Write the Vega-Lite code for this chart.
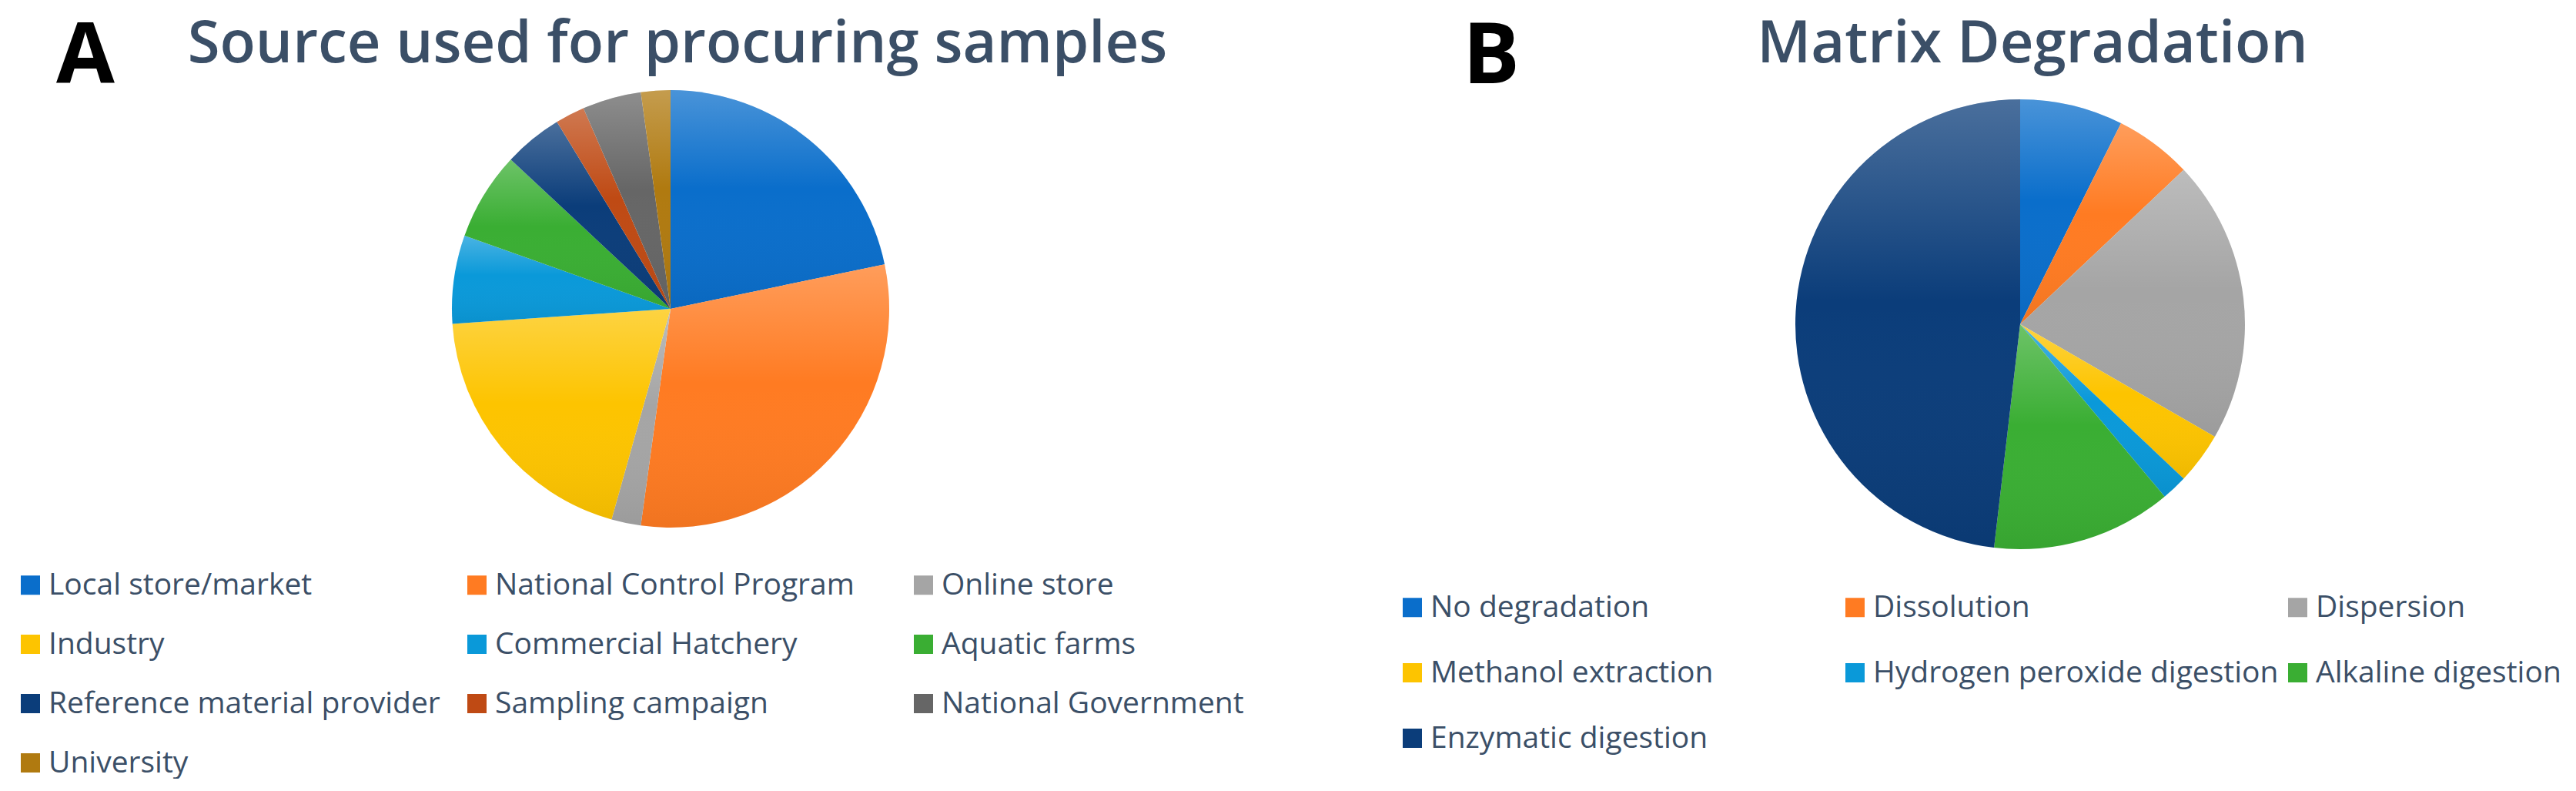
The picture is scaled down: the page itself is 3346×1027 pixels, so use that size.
{
  "$schema": "https://vega.github.io/schema/vega-lite/v6.json",
  "background": "white",
  "padding": {"left": 20, "top": 20, "right": 0, "bottom": 0},
  "config": {
    "view": {"stroke": null},
    "font": "Open Sans",
    "legend": {
      "symbolType": "square",
      "symbolSize": 625,
      "symbolStrokeWidth": 0,
      "symbolOpacity": 1,
      "labelFont": "Open Sans",
      "labelFontSize": 39,
      "labelColor": "#3b4f67",
      "labelLimit": 800,
      "labelOffset": 4,
      "padding": 0,
      "title": null
    }
  },
  "datasets": {
    "sources": [
      {"source": "Local store/market", "count": 10, "rank": 1},
      {"source": "National Control Program", "count": 14, "rank": 2},
      {"source": "Online store", "count": 1, "rank": 3},
      {"source": "Industry", "count": 9, "rank": 4},
      {"source": "Commercial Hatchery", "count": 3, "rank": 5},
      {"source": "Aquatic farms", "count": 3, "rank": 6},
      {"source": "Reference material provider", "count": 2, "rank": 7},
      {"source": "Sampling campaign", "count": 1, "rank": 8},
      {"source": "National Government", "count": 2, "rank": 9},
      {"source": "University", "count": 1, "rank": 10}
    ],
    "degradation": [
      {"method": "No degradation", "count": 4, "rank": 1},
      {"method": "Dissolution", "count": 3, "rank": 2},
      {"method": "Dispersion", "count": 11, "rank": 3},
      {"method": "Methanol extraction", "count": 2, "rank": 4},
      {"method": "Hydrogen peroxide digestion", "count": 1, "rank": 5},
      {"method": "Alkaline digestion", "count": 7, "rank": 6},
      {"method": "Enzymatic digestion", "count": 26, "rank": 7}
    ],
    "none": [{}]
  },
  "spacing": 0,
  "bounds": "flush",
  "resolve": {"scale": {"color": "independent"}},
  "hconcat": [
    {
      "width": 551,
      "height": 600,
      "title": {"text": "A", "anchor": "start", "frame": "group", "baseline": "alphabetic", "font": "Open Sans", "fontWeight": "bold", "fontSize": 110, "color": "black", "offset": -117, "dx": 53},
      "data": {"name": "none"},
      "mark": {"type": "text"},
      "encoding": {}
    },
    {
      "width": 600,
      "height": 600,
      "title": {"text": "Source used for procuring samples", "anchor": "middle", "baseline": "alphabetic", "font": "Open Sans", "fontWeight": 600, "fontSize": 76, "color": "#3b4f67", "offset": -56, "dx": 9},
      "data": {"name": "sources"},
      "encoding": {
        "theta": {"field": "count", "type": "quantitative", "stack": true},
        "order": {"field": "rank", "type": "quantitative"}
      },
      "layer": [
        {
          "mark": {"type": "arc", "radius": 284},
          "encoding": {
            "color": {
              "field": "source",
              "type": "nominal",
              "sort": null,
              "scale": {
                "domain": ["Local store/market", "National Control Program", "Online store", "Industry", "Commercial Hatchery", "Aquatic farms", "Reference material provider", "Sampling campaign", "National Government", "University"],
                "range": ["#0a6ecb", "#ff7b22", "#a5a5a5", "#fdc400", "#0a99d9", "#3aae33", "#0b3d7a", "#bf4a14", "#666666", "#b07a10"]
              },
              "legend": {"orient": "none", "legendX": -551, "legendY": 639, "columns": 3, "gridAlign": "all", "columnPadding": 28, "rowPadding": 37, "direction": "horizontal"}
            }
          }
        },
        {
          "mark": {
            "type": "arc",
            "radius": 284,
            "fill": {"gradient": "linear", "x1": 0, "y1": 0, "x2": 0, "y2": 1, "stops": [{"offset": 0, "color": "rgba(255,255,255,0.26)"}, {"offset": 0.45, "color": "rgba(255,255,255,0)"}, {"offset": 1, "color": "rgba(0,0,0,0.06)"}]}
          },
          "encoding": {}
        }
      ]
    },
    {
      "width": 1153,
      "height": 600,
      "title": {"text": "B", "anchor": "start", "frame": "group", "baseline": "alphabetic", "font": "Open Sans", "fontWeight": "bold", "fontSize": 110, "color": "black", "offset": -117, "dx": 729},
      "data": {"name": "none"},
      "mark": {"type": "text"},
      "encoding": {}
    },
    {
      "width": 600,
      "height": 640,
      "title": {"text": "Matrix Degradation", "anchor": "middle", "baseline": "alphabetic", "font": "Open Sans", "fontWeight": 600, "fontSize": 76, "color": "#3b4f67", "offset": -56, "dx": 16},
      "data": {"name": "degradation"},
      "encoding": {
        "theta": {"field": "count", "type": "quantitative", "stack": true},
        "order": {"field": "rank", "type": "quantitative"}
      },
      "layer": [
        {
          "mark": {"type": "arc", "radius": 292},
          "encoding": {
            "color": {
              "field": "method",
              "type": "nominal",
              "sort": null,
              "scale": {
                "domain": ["No degradation", "Dissolution", "Dispersion", "Methanol extraction", "Hydrogen peroxide digestion", "Alkaline digestion", "Enzymatic digestion"],
                "range": ["#0a6ecb", "#ff7b22", "#a5a5a5", "#fdc400", "#0a99d9", "#3aae33", "#0b3d7a"]
              },
              "legend": {"orient": "none", "legendX": -509, "legendY": 668, "columns": 3, "gridAlign": "all", "columnPadding": 5, "rowPadding": 45, "direction": "horizontal"}
            }
          }
        },
        {
          "mark": {
            "type": "arc",
            "radius": 292,
            "fill": {"gradient": "linear", "x1": 0, "y1": 0, "x2": 0, "y2": 1, "stops": [{"offset": 0, "color": "rgba(255,255,255,0.26)"}, {"offset": 0.45, "color": "rgba(255,255,255,0)"}, {"offset": 1, "color": "rgba(0,0,0,0.06)"}]}
          },
          "encoding": {}
        }
      ]
    }
  ]
}
